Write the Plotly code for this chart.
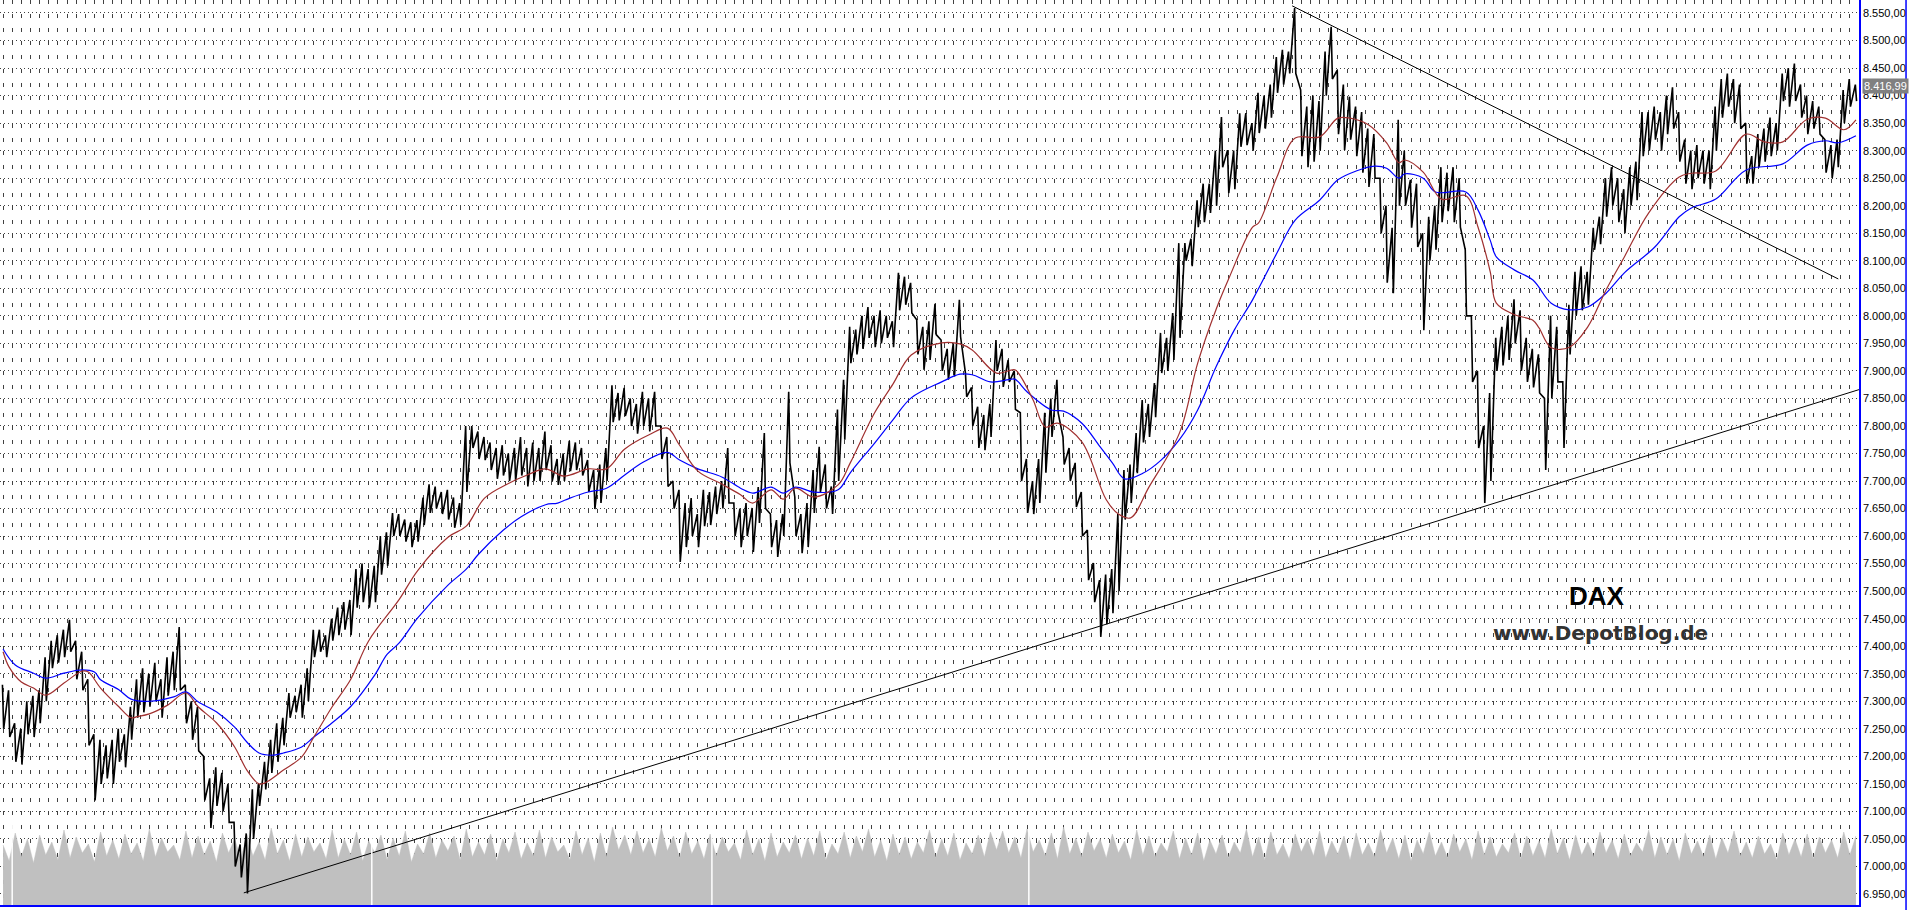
import plotly.graph_objects as go

# DAX intraday bars (about 6 px per bar)
bar_high = [
    7330, 7320, 7260, 7250, 7300, 7310, 7320, 7380, 7410, 7420,
    7430, 7448, 7410, 7390, 7340, 7240, 7230, 7220, 7230, 7250,
    7240, 7290, 7340, 7360, 7350, 7370, 7340, 7380, 7390, 7435,
    7330, 7300, 7290, 7200, 7160, 7180, 7170, 7150, 7080, 7040,
    7060, 7140, 7150, 7190, 7230, 7260, 7270, 7315, 7310, 7330,
    7360, 7430, 7430, 7420, 7450, 7470, 7480, 7484, 7540, 7550,
    7540, 7546, 7600, 7607, 7642, 7640, 7630, 7625, 7629, 7670,
    7694, 7690, 7680, 7684, 7670, 7660, 7800, 7800, 7790, 7780,
    7770, 7760, 7765, 7750, 7760, 7780, 7760, 7770, 7760, 7790,
    7765, 7740, 7750, 7773, 7770, 7760, 7738, 7720, 7730, 7760,
    7874, 7860, 7869, 7850, 7840, 7862, 7850, 7862, 7800, 7780,
    7700, 7684, 7660, 7669, 7640, 7684, 7680, 7690, 7700, 7760,
    7660, 7650, 7660, 7651, 7689, 7787, 7640, 7629, 7640, 7862,
    7671, 7640, 7660, 7720, 7762, 7730, 7690, 7830, 7884, 7980,
    7975, 8000, 8016, 8000, 8010, 8000, 7990, 8078, 8071, 8060,
    7993, 7980, 7990, 8022, 7956, 7940, 7950, 8029, 7896, 7870,
    7835, 7820, 7840, 7956, 7940, 7920, 7900, 7824, 7740, 7700,
    7740, 7824, 7850, 7884, 7780, 7760, 7733, 7680, 7611, 7551,
    7520, 7530, 7540, 7640, 7720, 7730, 7787, 7847, 7840, 7878,
    7969, 7960, 8005, 8132, 8132, 8140, 8210, 8240, 8240, 8300,
    8361, 8301, 8300, 8368, 8368, 8350, 8405, 8400, 8420, 8470,
    8483, 8480, 8559, 8410, 8380, 8400, 8390, 8480, 8525, 8446,
    8420, 8398, 8380, 8370, 8340, 8330, 8250, 8200, 8160, 8356,
    8300, 8247, 8240, 8150, 8180, 8200, 8270, 8260, 8270, 8250,
    8120, 8000, 7900, 7800, 7860, 7960, 7980, 8000, 8030, 8010,
    7960, 7940, 7930, 7850, 8000, 7980, 7880, 8020, 8080, 8090,
    8080, 8160, 8180, 8250, 8270, 8250, 8230, 8270, 8280, 8370,
    8370, 8380, 8370, 8400, 8415, 8370, 8320, 8300, 8310, 8300,
    8300, 8380, 8430, 8440, 8430, 8420, 8350, 8290, 8330, 8340,
    8360, 8350, 8440, 8450, 8458, 8420, 8400, 8390, 8380, 8320,
    8310, 8320, 8410, 8430, 8420,
]
bar_low = [
    7250, 7235, 7190, 7185, 7240, 7235, 7260, 7300, 7360, 7370,
    7380, 7390, 7340, 7320, 7220, 7120, 7150, 7160, 7150, 7190,
    7180, 7230, 7270, 7280, 7290, 7300, 7270, 7310, 7320, 7320,
    7260, 7230, 7210, 7120, 7070, 7110, 7100, 7080, 7000, 6980,
    6951, 7050, 7110, 7140, 7170, 7190, 7220, 7270, 7280, 7270,
    7300, 7380, 7390, 7380, 7410, 7420, 7430, 7420, 7470, 7480,
    7470, 7480, 7530, 7546, 7600, 7600, 7590, 7580, 7590, 7620,
    7642, 7650, 7640, 7630, 7615, 7620, 7680, 7760, 7740, 7738,
    7720, 7704, 7710, 7700, 7700, 7710, 7690, 7700, 7700, 7720,
    7700, 7693, 7700, 7718, 7720, 7710, 7680, 7649, 7660, 7700,
    7807, 7810, 7818, 7800, 7786, 7800, 7790, 7800, 7740, 7690,
    7650, 7553, 7580, 7600, 7580, 7618, 7620, 7640, 7650, 7660,
    7600, 7580, 7600, 7571, 7624, 7650, 7580, 7562, 7600, 7733,
    7600, 7569, 7580, 7642, 7680, 7650, 7640, 7700, 7775, 7914,
    7930, 7940, 7960, 7943, 7950, 7960, 7943, 8010, 8020, 8005,
    7930, 7902, 7920, 7966, 7900, 7884, 7890, 7962, 7853, 7800,
    7760, 7756, 7780, 7900, 7871, 7880, 7830, 7700, 7642, 7640,
    7660, 7715, 7780, 7824, 7730, 7700, 7653, 7600, 7520, 7480,
    7417, 7440, 7460, 7500, 7630, 7660, 7714, 7770, 7780, 7816,
    7896, 7900, 7920, 7960, 8100, 8090, 8161, 8170, 8187, 8200,
    8270, 8223, 8230, 8307, 8310, 8300, 8332, 8340, 8360, 8405,
    8420, 8440, 8440, 8290, 8270, 8280, 8300, 8400, 8430, 8330,
    8301, 8320, 8290, 8260, 8234, 8250, 8150, 8060, 8041, 8200,
    8200, 8160, 8125, 7974, 8100, 8120, 8170, 8190, 8170, 8161,
    8000, 7880, 7760, 7660, 7700, 7900, 7910, 7920, 7950, 7900,
    7880, 7870, 7860, 7720, 7850, 7880, 7760, 7930, 8000, 8010,
    8020, 8120, 8130, 8180, 8200, 8170, 8150, 8200, 8210, 8290,
    8300, 8320, 8300, 8330, 8340, 8280, 8240, 8230, 8250, 8240,
    8230, 8300, 8360, 8380, 8350, 8340, 8240, 8240, 8270, 8280,
    8290, 8300, 8390, 8380, 8390, 8360, 8330, 8340, 8330, 8260,
    8250, 8270, 8350, 8380, 8390,
]

# moving averages (bar index, value)
ma_red_bar = [
    0, 1, 3, 5, 7, 10, 13, 14, 16, 19, 21, 22, 24, 27, 30, 32, 35, 38, 40, 42,
    43, 46, 49, 51, 54, 57, 60, 65, 68, 73, 76, 79, 83, 86, 89, 92, 96, 99, 102, 106,
    109, 111, 114, 118, 121, 123, 126, 128, 130, 133, 137, 139, 143, 146, 149, 154, 157, 159, 163, 166,
    167, 169, 171, 173, 177, 181, 183, 185, 188, 193, 196, 199, 201, 205, 206, 209, 212, 216, 219, 221,
    224, 227, 229, 230, 233, 236, 240, 242, 244, 245, 248, 251, 252, 254, 257, 260, 263, 266, 270, 275,
    277, 281, 286, 289, 292, 296, 299, 302, 304,
]
ma_red = [
    7390, 7362, 7335, 7324, 7311, 7333, 7355, 7353, 7324, 7290, 7270, 7272, 7277, 7293, 7315, 7290, 7261, 7217, 7175, 7150,
    7152, 7175, 7199, 7235, 7290, 7339, 7410, 7485, 7537, 7598, 7618, 7669, 7696, 7711, 7722, 7709, 7722, 7722, 7758, 7784,
    7796, 7765, 7718, 7694, 7675, 7660, 7684, 7667, 7687, 7671, 7693, 7733, 7824, 7876, 7929, 7951, 7949, 7938, 7896, 7902,
    7889, 7847, 7798, 7805, 7771, 7666, 7640, 7633, 7689, 7787, 7914, 8011, 8065, 8161, 8169, 8252, 8323, 8325, 8359, 8359,
    8347, 8314, 8278, 8283, 8261, 8212, 8218, 8161, 8080, 8023, 8002, 7992, 7978, 7942, 7943, 7980, 8047, 8107, 8187, 8252,
    8259, 8263, 8330, 8316, 8316, 8357, 8359, 8338, 8356,
]
ma_blue_bar = [
    0, 2, 5, 7, 10, 13, 15, 16, 19, 21, 24, 28, 30, 32, 35, 38, 40, 42, 44, 46,
    49, 51, 54, 57, 61, 63, 65, 68, 73, 76, 78, 82, 85, 89, 91, 93, 96, 99, 102, 105,
    109, 111, 114, 118, 121, 123, 126, 128, 130, 133, 137, 139, 143, 146, 149, 154, 157, 159, 162, 165,
    166, 168, 172, 174, 177, 180, 182, 184, 187, 190, 193, 196, 199, 202, 205, 209, 212, 216, 219, 222,
    225, 227, 229, 230, 233, 235, 240, 242, 244, 245, 248, 251, 254, 257, 260, 263, 266, 271, 275, 277,
    281, 286, 292, 296, 299, 301, 304,
]
ma_blue = [
    7395, 7366, 7351, 7342, 7351, 7357, 7353, 7339, 7321, 7304, 7300, 7308, 7317, 7299, 7281, 7253, 7226, 7206, 7202, 7206,
    7217, 7235, 7261, 7290, 7348, 7385, 7406, 7451, 7511, 7540, 7567, 7610, 7635, 7657, 7660, 7669, 7680, 7687, 7711, 7734,
    7752, 7738, 7722, 7707, 7687, 7678, 7689, 7678, 7689, 7680, 7684, 7715, 7769, 7811, 7851, 7880, 7894, 7893, 7880, 7884,
    7885, 7862, 7829, 7827, 7805, 7762, 7733, 7704, 7714, 7738, 7775, 7829, 7907, 7974, 8029, 8114, 8174, 8210, 8247, 8263,
    8272, 8268, 8250, 8258, 8250, 8225, 8225, 8192, 8137, 8107, 8083, 8065, 8023, 8011, 8016, 8041, 8078, 8125, 8180, 8196,
    8212, 8265, 8276, 8310, 8318, 8314, 8327,
]

# volume per bar (lower panel, arbitrary units)
volume = [
    60, 44, 72, 48, 66, 42, 70, 50, 63, 45, 75, 47, 68, 52, 61, 43, 73, 49, 65, 46,
    71, 51, 62, 44, 76, 48, 67, 53, 60, 45, 74, 47, 69, 50, 64, 43, 72, 52, 66, 46,
    70, 49, 63, 45, 77, 51, 65, 44, 71, 48, 68, 53, 62, 46, 75, 47, 66, 50, 73, 44,
    64, 52, 70, 45, 67, 49, 74, 43, 61, 51, 72, 47, 65, 54, 69, 45, 76, 48, 63, 50,
    71, 44, 66, 52, 73, 46, 62, 49, 75, 47, 68, 53, 60, 45, 74, 50, 67, 43, 72, 48,
    78, 55, 70, 50, 74, 52, 66, 48, 77, 54, 69, 47, 73, 51, 64, 46, 71, 49, 68, 53,
    62, 45, 75, 50, 66, 44, 72, 48, 63, 52, 70, 46, 67, 49, 74, 45, 61, 51, 73, 47,
    69, 53, 76, 48, 65, 44, 71, 50, 68, 46, 63, 52, 75, 47, 66, 49, 72, 45, 62, 51,
    70, 48, 73, 55, 74, 52, 68, 47, 76, 53, 65, 49, 72, 46, 78, 51, 67, 48, 73, 54,
    66, 47, 71, 52, 64, 45, 75, 50, 69, 48, 62, 53, 74, 46, 67, 50, 72, 44, 65, 51,
    70, 47, 63, 52, 76, 48, 68, 45, 73, 50, 61, 46, 71, 53, 66, 49, 74, 47, 64, 51,
    69, 45, 72, 50, 62, 48, 75, 52, 67, 46, 70, 44, 65, 51, 73, 49, 63, 47, 71, 53,
    66, 45, 74, 50, 68, 48, 61, 52, 72, 46, 69, 49, 64, 47, 76, 51, 67, 45, 70, 50,
    63, 48, 73, 52, 65, 46, 71, 49, 62, 53, 75, 47, 68, 50, 66, 44, 72, 51, 64, 48,
    70, 46, 67, 52, 74, 49, 63, 47, 69, 51, 61, 45, 72, 50, 66, 48, 71, 46, 68, 52,
    65, 47, 73, 50, 69,
]
session_breaks = [1.5, 60.5, 116.3, 168.3]

# hand-drawn trend lines (bar index, price)
support_bar = [39.5, 304.5]
support_price = [6952, 7866]
resist_bar = [211.5, 301.1]
resist_price = [8563, 8067]

last_price = 8416.99
y_ticks = [
    6950, 7000, 7050, 7100, 7150, 7200, 7250, 7300, 7350, 7400, 7450,
    7500, 7550, 7600, 7650, 7700, 7750, 7800, 7850, 7900, 7950, 8000,
    8050, 8100, 8150, 8200, 8250, 8300, 8350, 8400, 8450, 8500, 8550,
]

# zigzag through high and low of every bar
price_x, price_y = [], []
for i, (hi, lo) in enumerate(zip(bar_high, bar_low)):
    price_x += [i - 0.1, i + 0.1]
    price_y += [hi, lo]

fig = go.Figure()

# volume sits on the base axis so the price panel draws over it
fig.add_trace(
    go.Scatter(
        x=list(range(len(volume))),
        y=volume,
        mode="lines",
        line=dict(color="#c0c0c0", width=0.5),
        fill="tozeroy",
        fillcolor="#c0c0c0",
        yaxis="y",
        hoverinfo="skip",
    )
)

fig.add_trace(
    go.Scatter(
        x=support_bar, y=support_price, mode="lines",
        line=dict(color="black", width=1), yaxis="y2", hoverinfo="skip",
    )
)
fig.add_trace(
    go.Scatter(
        x=resist_bar, y=resist_price, mode="lines",
        line=dict(color="black", width=1), yaxis="y2", hoverinfo="skip",
    )
)

fig.add_trace(
    go.Scatter(
        x=price_x, y=price_y, mode="lines",
        line=dict(color="black", width=1.6), yaxis="y2", name="DAX",
    )
)
fig.add_trace(
    go.Scatter(
        x=ma_blue_bar, y=ma_blue, mode="lines", line_shape="spline",
        line=dict(color="#0000ff", width=1.2), yaxis="y2", name="MA lang",
    )
)
fig.add_trace(
    go.Scatter(
        x=ma_red_bar, y=ma_red, mode="lines", line_shape="spline",
        line=dict(color="#a03030", width=1.2), yaxis="y2", name="MA kurz",
    )
)

# session separators: white gap in the volume panel
for b in session_breaks:
    fig.add_shape(
        type="line", xref="x", yref="paper", x0=b, x1=b, y0=0, y1=0.09,
        line=dict(color="white", width=1.5),
    )

# right frame line of the price scale
fig.add_shape(
    type="line", xref="paper", yref="paper", x0=1.0253, x1=1.0253, y0=-0.01, y1=1,
    line=dict(color="#0000ff", width=1.5),
)

fig.add_annotation(
    x=0.859, y=0.3414, xref="paper", yref="paper", text="<b>DAX</b>",
    xanchor="center", yanchor="middle", showarrow=False,
    font=dict(family="Liberation Sans", size=26, color="black"),
)
fig.add_annotation(
    x=0.8612, y=0.3006, xref="paper", yref="paper", text="<b>www.DepotBlog.de</b>",
    xanchor="center", yanchor="middle", showarrow=False,
    font=dict(family="DejaVu Sans", size=20, color="#333333"),
)

last_text = f"{last_price:,.2f}".replace(",", "X").replace(".", ",").replace("X", ".")
fig.add_annotation(
    x=1.0016, y=last_price, xref="paper", yref="y2", text=last_text,
    xanchor="left", yanchor="middle", showarrow=False, bgcolor="#808080", borderpad=1,
    font=dict(family="Liberation Sans", size=11, color="white"),
)

fig.update_layout(
    width=1914,
    height=910,
    margin=dict(l=0, r=55, t=0, b=5),
    plot_bgcolor="white",
    paper_bgcolor="white",
    showlegend=False,
    separators=",.",
    font=dict(family="Liberation Sans", size=11, color="black"),
    xaxis=dict(
        range=[-0.5, len(bar_high) - 0.5],
        showgrid=True,
        gridcolor="#404040",
        gridwidth=1,
        griddash="4px,9.75px",
        dtick=1.5,
        tick0=0,
        showticklabels=False,
        ticks="",
        zeroline=False,
        showline=True,
        linecolor="#0000ff",
        linewidth=1.5,
    ),
    yaxis=dict(range=[0, 905], visible=False, fixedrange=True),
    yaxis2=dict(
        overlaying="y",
        side="right",
        anchor="x",
        range=[6930, 8573.6],
        tickvals=y_ticks,
        tickformat=",.2f",
        showgrid=True,
        gridcolor="#404040",
        gridwidth=1,
        griddash="1px,3px",
        zeroline=False,
        showline=True,
        linecolor="#0000ff",
        linewidth=1.5,
        ticks="",
        ticklabelstandoff=0,
        tickfont=dict(family="Liberation Sans", size=11, color="black"),
    ),
)

# the page body has a default margin; drop it so the chart sits at 0,0
fig.write_html(
    "out.html",
    config={"displayModeBar": False},
    post_script="document.body.style.margin='0';document.body.style.overflow='hidden';",
)
